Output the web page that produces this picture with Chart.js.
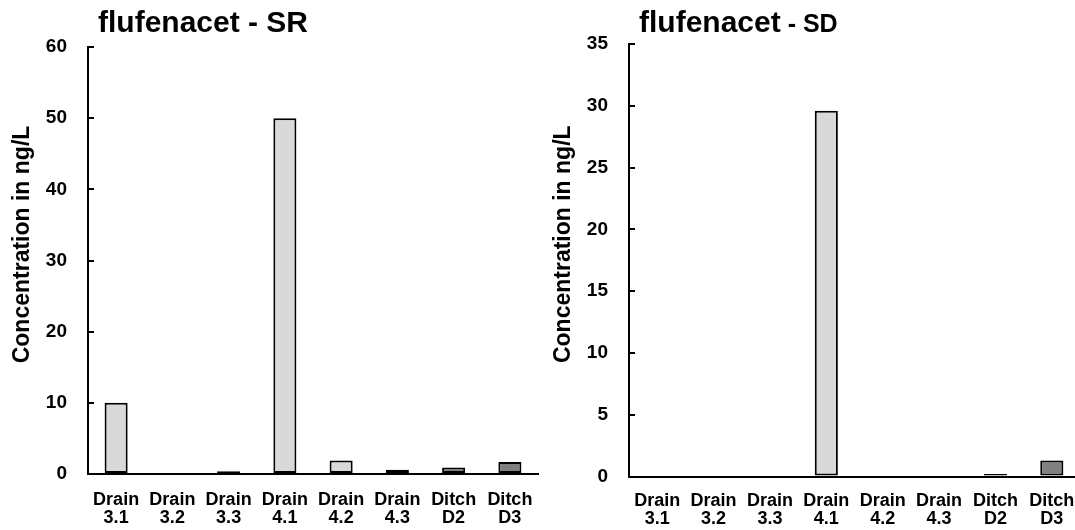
<!DOCTYPE html>
<html>
<head>
<meta charset="utf-8">
<title>flufenacet</title>
<script src="https://cdn.jsdelivr.net/npm/chart.js@4/dist/chart.umd.min.js"></script>
<style>
    body { margin: 0; background: #fff; }
    .row { display: flex; width: 1075px; height: 530px; }
    .panel { position: relative; height: 530px; overflow: hidden; }
    #panelSR { width: 540px; }
    #panelSD { width: 535px; }
</style>
</head>
<body>
<div class="row">
    <div class="panel" id="panelSR"><canvas id="chartSR" width="540" height="530"></canvas></div>
    <div class="panel" id="panelSD"><canvas id="chartSD" width="540" height="530"></canvas></div>
</div>
<script>
// sampling points, shared by both panels
const sites = [
    ['Drain', '3.1'], ['Drain', '3.2'], ['Drain', '3.3'],
    ['Drain', '4.1'], ['Drain', '4.2'], ['Drain', '4.3'],
    ['Ditch', 'D2'], ['Ditch', 'D3']
];

// flufenacet concentrations (ng/L)
const srValues = [10, 0.1, 0.4, 50, 1.9, 0.6, 0.9, 1.7];
const sdValues = [0, 0, 0, 29.6, 0, 0, 0.2, 1.3];

const srTicks = { max: 60, step: 10 };
const sdTicks = { max: 35, step: 5 };

const FONT = 'Arial, "Liberation Sans", sans-serif';
const DRAIN_FILL = '#d9d9d9';
const DITCH_FILL = '#808080';

Chart.defaults.font.family = FONT;
Chart.defaults.color = '#000';

/* ---------------- Titles (panel title + rotated y title) ---------------- */
const panelTitles = {
    id: 'panelTitles',
    afterDraw(chart, args, opts) {
        const { ctx, chartArea } = chart;
        ctx.save();
        ctx.fillStyle = '#000';
        ctx.textAlign = 'left';
        ctx.textBaseline = 'alphabetic';

        let x = chartArea.left + 10;
        opts.parts.forEach(p => {
            ctx.font = `bold ${p.size}px ${FONT}`;
            ctx.fillText(p.text, x, 32);
            x += ctx.measureText(p.text).width;
        });

        ctx.translate(chartArea.left - 59.5, (chartArea.top + chartArea.bottom) / 2 - 16);
        ctx.rotate(-Math.PI / 2);
        ctx.textAlign = 'center';
        ctx.font = `bold 23px ${FONT}`;
        ctx.fillText(opts.yTitle, 0, 0);
        ctx.restore();
    }
};

function buildChart(canvasId, values, ticks, parts, box) {
    const fills = sites.map(s => s[0] === 'Ditch' ? DITCH_FILL : DRAIN_FILL);
    return new Chart(document.getElementById(canvasId), {
        type: 'bar',
        data: {
            labels: sites,
            datasets: [{
                data: values,
                backgroundColor: fills,
                borderColor: '#000',
                borderWidth: 2,
                borderSkipped: false,
                barPercentage: 0.41,
                categoryPercentage: 1
            }]
        },
        plugins: [panelTitles],
        options: {
            responsive: false,
            animation: false,
            layout: { padding: { top: box.top, right: box.right, bottom: 0, left: 0 } },
            plugins: {
                legend: { display: false },
                tooltip: { enabled: false },
                panelTitles: { parts: parts, yTitle: 'Concentration in ng/L' }
            },
            scales: {
                x: {
                    grid: { display: true, drawOnChartArea: false, drawTicks: false },
                    border: { display: true, color: '#000', width: 2 },
                    ticks: {
                        padding: box.labelPad,
                        maxRotation: 0,
                        autoSkip: false,
                        font: { size: 18, weight: 'bold', lineHeight: 1.0 }
                    },
                    afterFit: s => {
                        // keep the axis running edge to edge; labels may overhang
                        s.height = box.xHeight;
                        s.paddingLeft = 0;
                        s.paddingRight = 0;
                    }
                },
                y: {
                    min: 0,
                    max: ticks.max,
                    grid: {
                        display: true,
                        drawOnChartArea: false,
                        drawTicks: true,
                        tickLength: -6,
                        color: '#000',
                        lineWidth: 2
                    },
                    border: { display: true, color: '#000', width: 2 },
                    ticks: {
                        stepSize: ticks.step,
                        padding: 27,
                        font: { size: 19, weight: 'bold' }
                    },
                    afterFit: s => { s.width = box.yWidth; }
                }
            }
        }
    });
}

buildChart('chartSR', srValues, srTicks,
    [{ text: 'flufenacet - SR', size: 30 }],
    { top: 47, right: 2, xHeight: 56, yWidth: 88, labelPad: 17 });

buildChart('chartSD', sdValues, sdTicks,
    [{ text: 'flufenacet', size: 30 }, { text: ' - SD', size: 25 }],
    { top: 44, right: 0, xHeight: 53.5, yWidth: 89, labelPad: 16 });
</script>
</body>
</html>
